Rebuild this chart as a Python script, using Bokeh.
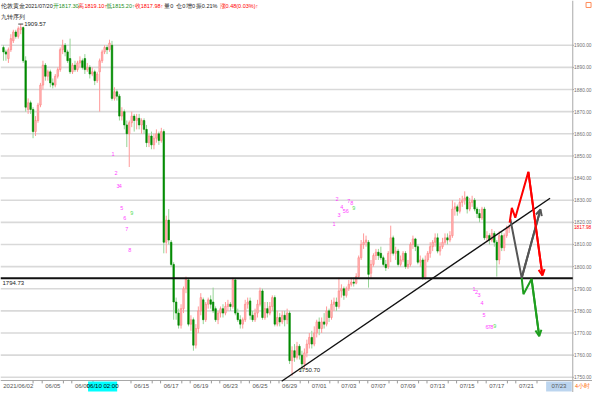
from bokeh.plotting import figure
from bokeh.models import Range1d, Label, Arrow, OpenHead, ColumnDataSource
from bokeh.embed import file_html
from bokeh.resources import INLINE
from bokeh.core.properties import value

# ---------------- data (4-hour London gold bars) ----------------
opens = [1899, 1897, 1894, 1898, 1902, 1906, 1904, 1907, 1908, 1893,
         1871, 1874, 1871, 1861, 1866, 1873, 1882, 1891, 1886, 1888,
         1883, 1882, 1886, 1889, 1898, 1900, 1897, 1894, 1888, 1891,
         1889, 1892, 1893, 1894, 1889, 1890, 1887, 1888, 1884, 1888,
         1893, 1897, 1899, 1898, 1900, 1876, 1879, 1877, 1868, 1870,
         1864, 1860, 1865, 1868, 1866, 1867, 1864, 1866, 1862, 1856,
         1859, 1855, 1858, 1860, 1857, 1861, 1811, 1821, 1811, 1801,
         1784, 1779, 1773.5, 1781, 1790, 1794, 1774, 1776, 1764.5, 1772,
         1780, 1785, 1776, 1783, 1785, 1784, 1781, 1776, 1779, 1781,
         1779, 1782, 1783, 1782, 1794, 1779, 1776, 1774, 1776, 1783,
         1784.5, 1778, 1776, 1779, 1783, 1789, 1777, 1781, 1779, 1782,
         1786, 1774, 1777, 1775, 1778, 1776, 1779, 1757.5, 1762, 1759,
         1764, 1760, 1756, 1761, 1765, 1768, 1765, 1770, 1775, 1772,
         1775, 1774, 1780, 1777, 1783, 1784, 1782, 1789, 1790, 1787,
         1790, 1792, 1793, 1792.5, 1795.5, 1804, 1810, 1811, 1811, 1797,
         1801, 1805, 1806.5, 1806, 1804, 1801, 1800, 1806, 1813, 1806,
         1807, 1801, 1803, 1806, 1800, 1801, 1810, 1812.5, 1809, 1802,
         1803, 1795, 1803, 1806, 1809, 1811, 1813, 1807, 1809, 1811,
         1813, 1812, 1814, 1826, 1827, 1825, 1829, 1830, 1831.5, 1826,
         1829, 1830, 1826, 1824, 1822, 1826, 1813, 1814, 1812, 1815,
         1811, 1803, 1814, 1808.5, 1814, 1817.3]
highs = [1900, 1898, 1899, 1905, 1907, 1907, 1908.5, 1909.57, 1908.5, 1895,
         1876, 1875, 1872, 1868, 1874, 1883, 1893, 1892, 1889, 1889,
         1885, 1887, 1890, 1899, 1902.5, 1901, 1898, 1903, 1892, 1893,
         1893, 1895, 1894, 1896, 1892, 1891, 1890, 1889, 1888, 1894,
         1898, 1900, 1900, 1902.5, 1902, 1881, 1880, 1878, 1872, 1871,
         1866, 1866, 1870, 1869, 1869, 1869, 1867, 1867, 1864, 1860,
         1861, 1860, 1862, 1861, 1862.7, 1862, 1823, 1826, 1812, 1802,
         1786, 1781, 1783, 1791, 1795.5, 1794.7, 1778, 1777, 1774, 1782,
         1788, 1786, 1784, 1786, 1787, 1790.5, 1782, 1780, 1782, 1783,
         1784, 1785, 1784, 1795, 1794.7, 1781, 1778, 1777, 1785, 1786,
         1786, 1780, 1781, 1785, 1790.5, 1790, 1784, 1784, 1784, 1787,
         1787, 1780, 1779, 1780, 1780, 1781, 1780, 1764, 1765, 1766,
         1765, 1762, 1763, 1767, 1770, 1771, 1773, 1776, 1777, 1777,
         1779, 1782, 1781, 1785, 1786, 1786, 1795, 1792, 1791, 1791,
         1794, 1795, 1795, 1797, 1805, 1812, 1815, 1814, 1812, 1803,
         1806, 1808, 1808, 1809, 1805, 1803, 1807, 1818.5, 1814, 1809,
         1808, 1805, 1807, 1807, 1803, 1811, 1814, 1813, 1810, 1805,
         1804, 1805, 1807, 1811, 1812, 1815, 1815, 1811, 1813, 1815,
         1815, 1816, 1830, 1829, 1828, 1831, 1832, 1834, 1832, 1831,
         1832, 1831, 1827, 1826, 1827, 1827, 1816, 1815, 1817, 1816,
         1812, 1816, 1816, 1815, 1818.5, 1819.1]
lows = [1893, 1893, 1892, 1897, 1901, 1903, 1903, 1905, 1892, 1870,
        1869, 1869, 1858, 1859, 1865, 1872, 1880, 1884, 1884, 1881,
        1880.5, 1881, 1885, 1888, 1896, 1895, 1892, 1887, 1887, 1888,
        1888, 1890, 1889, 1887, 1888, 1885, 1886, 1882, 1883, 1870,
        1892, 1896, 1896, 1897, 1875, 1875, 1875, 1866, 1866, 1862,
        1854, 1845, 1863, 1861, 1862, 1862, 1860, 1860, 1854, 1854,
        1853, 1853, 1856, 1855, 1856, 1806, 1806, 1810, 1800, 1776,
        1776, 1772, 1772, 1779, 1788, 1773, 1771, 1762, 1763, 1770,
        1778, 1774, 1775, 1781, 1781, 1779, 1775, 1774, 1777, 1777,
        1778, 1780, 1780, 1781, 1778, 1775, 1772, 1772, 1775, 1781,
        1776, 1775, 1775, 1777, 1782, 1776, 1776, 1777, 1778, 1780,
        1773, 1773, 1773, 1774, 1773, 1774, 1756, 1750.7, 1757, 1758,
        1758, 1753, 1754, 1759, 1763, 1763, 1764, 1768, 1769, 1770,
        1772, 1773, 1775, 1776, 1780, 1780, 1781, 1786, 1785, 1786,
        1789, 1791, 1791, 1792, 1795, 1803, 1808, 1809, 1790.5, 1795,
        1800, 1803, 1803, 1803, 1800, 1798, 1799, 1802, 1805, 1803,
        1800, 1800, 1802, 1799, 1799, 1800, 1808, 1807, 1801, 1800,
        1794, 1794, 1802, 1804, 1807, 1809, 1806, 1805, 1808, 1810,
        1810, 1811, 1813, 1823, 1823, 1824, 1827, 1828, 1824, 1825,
        1827, 1825, 1822, 1820, 1821, 1812, 1811, 1810, 1811, 1809,
        1795.5, 1801, 1807, 1807, 1813, 1815.2]
closes = [1897, 1896, 1898, 1903, 1906, 1904, 1907.5, 1908, 1893, 1872,
          1874, 1871, 1861, 1866, 1873, 1882, 1891, 1886, 1888, 1883,
          1882, 1886, 1889, 1898, 1900, 1897, 1893, 1888, 1891, 1889,
          1892, 1893, 1890, 1889, 1890, 1887, 1888, 1884, 1887, 1893,
          1897, 1899, 1898, 1901, 1876, 1879, 1877, 1868, 1870, 1864,
          1860, 1865, 1868, 1866, 1867, 1864, 1866, 1862, 1856, 1859,
          1855, 1858, 1860, 1857, 1861, 1811, 1821, 1812, 1801, 1784,
          1779, 1773.5, 1781, 1790, 1794.5, 1774, 1776, 1764.5, 1772, 1780,
          1786, 1776, 1783, 1785, 1783, 1780, 1776, 1779, 1781, 1779,
          1782, 1783, 1782, 1794, 1779, 1776, 1774, 1776, 1783, 1784,
          1778, 1776, 1779, 1783, 1789, 1777, 1781, 1779, 1782, 1786,
          1774, 1777, 1775, 1778, 1776, 1779, 1757.5, 1762, 1759, 1764,
          1760, 1756, 1761, 1765, 1768, 1765, 1770, 1775, 1772, 1775,
          1774, 1780, 1777, 1783, 1784, 1782, 1789, 1790, 1787, 1790,
          1792, 1793, 1792.5, 1795.5, 1804, 1810, 1811, 1812, 1796.5, 1801,
          1805, 1806.5, 1805, 1804, 1801, 1799.5, 1806, 1813, 1806, 1807,
          1801, 1803, 1806, 1800, 1801, 1810, 1812.5, 1809, 1802, 1803,
          1795, 1803, 1806, 1809, 1811, 1813, 1807, 1809, 1811, 1813,
          1812, 1814, 1826, 1827, 1825, 1829, 1830, 1831, 1826, 1829,
          1830, 1826, 1824, 1822, 1826, 1813, 1814, 1812, 1815, 1811,
          1803, 1814, 1808.5, 1814, 1817.3, 1817.98]

price_ticks = [1750, 1760, 1770, 1780, 1790, 1800, 1810, 1820, 1830, 1840,
               1850, 1860, 1870, 1880, 1890, 1900]
last_price = 1817.98
support_level = 1794.73
period_high = 1909.57
period_low = 1750.70

date_ticks = [6, 20, 32, 56, 68, 80, 92, 104, 116, 128, 140, 152, 164, 176, 188, 200, 212]
date_labels = ["2021/06/02", "06/05", "06/09", "06/15", "06/17", "06/19", "06/23", "06/25",
               "06/29", "07/01", "07/03", "07/07", "07/09", "07/13", "07/15", "07/17", "07/21"]
cursor_label = "06/10 02:00"
future_label = "07/23"
period_label = "4小时"

# trend line (bar index, price)
trend_x = [112.8, 221.6]
trend_y = [1748.2, 1830.9]

# projected paths (bar index, price)
red_path_x = [205.2, 206.1, 207.5, 212.8, 218.5]
red_path_y = [1819.9, 1826.5, 1822.1, 1842.8, 1796.0]
gray_path_x = [205.5, 210.1, 217.7]
gray_path_y = [1821.4, 1794.9, 1825.8]
green_path_x = [210.1, 210.8, 214.1, 217.2]
green_path_y = [1794.9, 1787.5, 1794.4, 1768.6]

# TD "九转序列" counts
td_text = ["1", "2", "3", "4", "5", "6", "7", "8", "9"] * 3
td_x = [44.4, 45.6, 46.4, 47.4, 48.0, 49.2, 50.0, 51.2, 52.0,
        134.0, 135.2, 136.0, 137.2, 138.2, 139.4, 140.0, 141.2, 142.0,
        190.8, 191.8, 192.8, 194.0, 194.8, 196.0, 197.0, 198.0, 199.2]
td_y = [1850.8, 1842.3, 1836.2, 1836.2, 1826.4, 1822.0, 1817.1, 1807.4, 1824.2,
        1819.3, 1830.4, 1823.3, 1826.8, 1825.1, 1825.1, 1829.5, 1828.6, 1826.4,
        1789.7, 1788.4, 1787.0, 1783.5, 1778.2, 1772.9, 1772.9, 1772.9, 1773.3]

# ---------------- figure ----------------
X0, X1 = -1.2, 238.8
AXIS_Y = 1748.54          # price at the time-axis line
Y0, Y1 = 1743.12, 1920.22  # frame covers the whole canvas, time band included
AX = 230.8                # position of the price scale line
BY = AXIS_Y - 2.7         # middle of the time band
FNAME = "Liberation Sans"
FONT = value(FNAME)

p = figure(width=592, height=392, output_backend="svg", toolbar_location=None,
           x_range=Range1d(X0, X1), y_range=Range1d(Y0, Y1),
           x_axis_location=None, y_axis_location=None,
           min_border_left=0, min_border_right=0, min_border_top=0, min_border_bottom=0)
p.outline_line_color = None
p.xgrid.visible = False
p.ygrid.visible = False
p.background_fill_color = "white"
p.border_fill_color = "white"

# horizontal grid up to the price scale
p.segment(x0=[X0] * len(price_ticks), x1=[AX] * len(price_ticks), y0=price_ticks, y1=price_ticks,
          line_color="#d9d9d9", line_width=1.6)

# ---- time band ----
p.segment(x0=[X0], x1=[X1], y0=[AXIS_Y], y1=[AXIS_Y], line_color="#a8a8a8", line_width=1)
minor = [12] + [t - 4.3 for t in date_ticks[1:]] + [t + 4.3 for t in date_ticks[1:]]
p.segment(x0=minor, x1=minor, y0=[AXIS_Y] * len(minor), y1=[AXIS_Y - 1.3] * len(minor),
          line_color="#9a9a9a", line_width=1)
p.text(x=date_ticks, y=[BY] * len(date_ticks), text=date_labels,
       text_font=FONT, text_font_size="6px", text_color="#555555",
       text_align="center", text_baseline="middle")
p.rect(x=[40.2], y=[BY], width=[11.8], height=[10], height_units="screen",
       fill_color="#00ffff", line_color=None)
p.text(x=[40.2], y=[BY], text=[cursor_label], text_font=FONT, text_font_size="6px",
       text_color="#000000", text_align="center", text_baseline="middle")
p.rect(x=[225.2], y=[BY], width=[10.4], height=[10], height_units="screen",
       fill_color="#bcd5ef", line_color=None)
p.text(x=[225.2], y=[BY], text=[future_label], text_font=FONT, text_font_size="6px",
       text_color="#555555", text_align="center", text_baseline="middle")
p.text(x=[234.8], y=[BY], text=[period_label], text_font=FONT, text_font_size="5.5px",
       text_color="#ff6600", text_align="center", text_baseline="middle")

# ---- price scale (right) ----
p.segment(x0=[AX], x1=[AX], y0=[Y0], y1=[Y1], line_color="#a8a8a8", line_width=1)
p.segment(x0=[AX] * len(price_ticks), x1=[AX + 0.5] * len(price_ticks), y0=price_ticks, y1=price_ticks,
          line_color="#a8a8a8", line_width=1)
p.text(x=[AX + 0.55] * len(price_ticks), y=price_ticks, text=[f"{v:.2f}" for v in price_ticks],
       text_font=FONT, text_font_size="4.8px", text_color="#707070",
       text_baseline="middle", text_align="left")

# ---- candles ----
n = len(closes)
up = [c >= o for o, c in zip(opens, closes)]
src = ColumnDataSource(dict(
    x=list(range(n)), o=opens, h=highs, l=lows, c=closes,
    top=[max(o, c) for o, c in zip(opens, closes)],
    bot=[min(o, c) for o, c in zip(opens, closes)],
    wick=["#ff9a9a" if u else "#95d495" for u in up],
    fill=["#ffb9b9" if u else "#008a00" for u in up],
    edge=["#ff8080" if u else "#008a00" for u in up],
))
p.segment(x0="x", x1="x", y0="h", y1="l", line_color="wick", line_width=1, source=src)
p.vbar(x="x", width=0.62, top="top", bottom="bot", fill_color="fill", line_color="edge",
       line_width=0.6, source=src)

# support line and trend line
p.line(x=[X0, AX], y=[support_level, support_level], line_color="#111111", line_width=1.8)
p.line(x=trend_x, y=trend_y, line_color="#111111", line_width=1.4)

# projected paths
for xs, ys, col in [(gray_path_x, gray_path_y, "#555555"),
                    (red_path_x, red_path_y, "#ff0000"),
                    (green_path_x, green_path_y, "#1e9e1e")]:
    p.line(x=xs, y=ys, line_color=col, line_width=2)
    p.add_layout(Arrow(end=OpenHead(size=6, line_color=col, line_width=2),
                       x_start=xs[-2], y_start=ys[-2], x_end=xs[-1], y_end=ys[-1],
                       line_color=col, line_width=2))

# TD sequence numbers
p.text(x=td_x, y=td_y, text=td_text,
       text_color=["#55dd55" if t == "9" else "#ff44ff" for t in td_text],
       text_font=FONT, text_font_size="5.5px", text_align="center", text_baseline="middle")

# high / low / level labels
p.segment(x0=[6.0], x1=[8.0], y0=[period_high], y1=[period_high], line_color="#444444", line_width=1)
p.add_layout(Label(x=8.4, y=period_high, text=f"{period_high:.2f}", text_font=FNAME,
                   text_font_size="6px", text_color="#222222", text_baseline="middle"))
p.add_layout(Label(x=-0.4, y=support_level - 2.3, text=f"{support_level:.2f}", text_font=FNAME,
                   text_font_size="6px", text_color="#222222", text_baseline="middle"))
p.add_layout(Label(x=119.6, y=period_low + 2.7, text=f"{period_low:.2f}", text_font=FNAME,
                   text_font_size="6px", text_color="#222222", text_baseline="middle"))

# last price tag on the price scale
p.add_layout(Label(x=AX + 0.45, y=last_price, text=f"{last_price:.2f}", text_font=FNAME,
                   text_font_size="4.8px", text_color="#ff0000", text_baseline="middle",
                   background_fill_color="white"))

# header
HY = 1917.8
header = [(-0.8, "伦敦黄金", "#222222"), (8.8, "2021/07/20", "#222222"),
          (20.0, "开1817.30↑", "#1e8f1e"), (30.4, "高1819.10↑", "#ff0000"),
          (41.6, "低1815.20↑", "#1e8f1e"), (53.2, "收1817.98↑", "#ff0000"),
          (65.2, "量0", "#222222"), (70.0, "仓0", "#222222"), (74.0, "增0", "#222222"),
          (78.0, "振0.21%", "#222222"), (87.6, "涨0.48(0.03%)↑", "#ff0000")]
for hx, txt, col in header:
    p.add_layout(Label(x=hx, y=HY, text=txt, text_font=FNAME, text_font_size="5.5px",
                       text_color=col, text_baseline="middle"))
p.add_layout(Label(x=-0.8, y=1912.9, text="九转序列", text_font=FNAME, text_font_size="5.5px",
                   text_color="#222222", text_baseline="middle"))

# small marker top right
p.rect(x=[237.2], y=[1918.2], width=5, height=5, width_units="screen", height_units="screen",
       fill_color=None, line_color="#ff8c5a", line_width=1)

open("out.html", "w").write(file_html(p, INLINE))
